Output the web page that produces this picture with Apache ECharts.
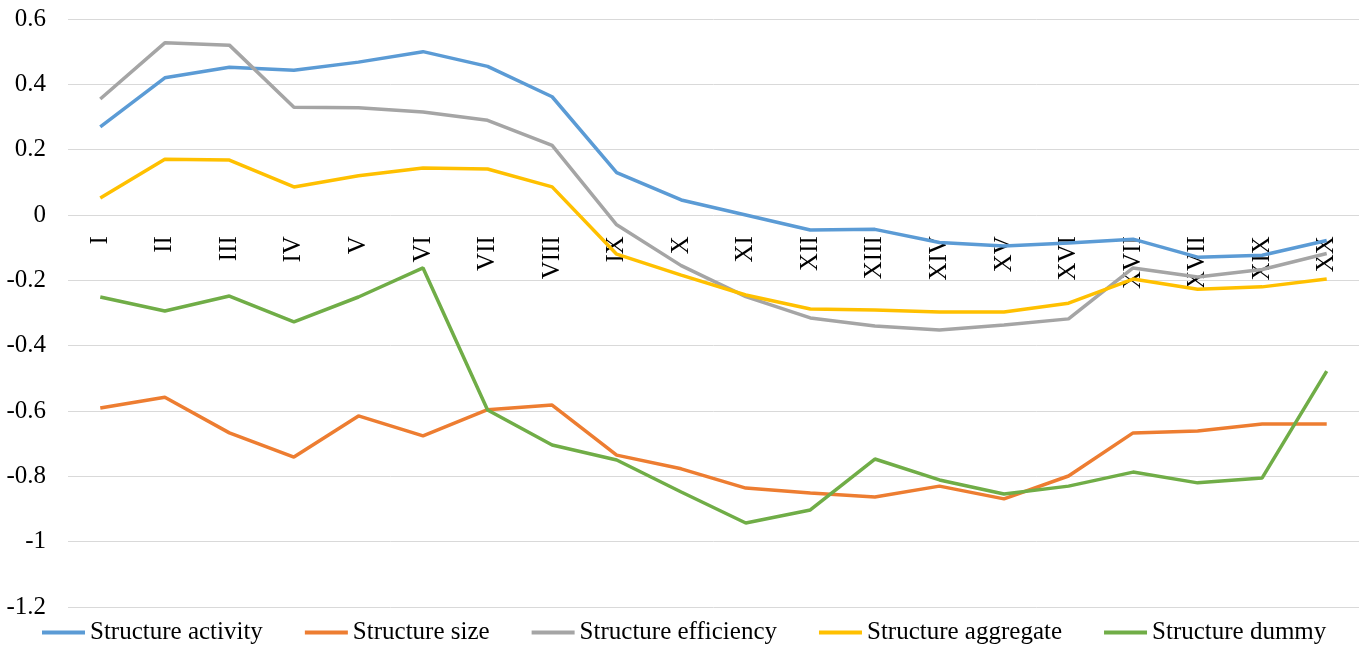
<!DOCTYPE html>
<html>
<head>
<meta charset="utf-8">
<script src="https://cdn.jsdelivr.net/npm/echarts@6/dist/echarts.min.js"></script>
<style>
html, body { margin: 0; padding: 0; background: #fff; }
#chart { width: 1362px; height: 646px; }
</style>
</head>
<body>
<div id="chart"></div>
<script>
// categories (the 18th label really says XVII in the source)
const categories = ["I", "II", "III", "IV", "V", "VI", "VII", "VIII", "IX", "X",
    "XI", "XII", "XIII", "XIV", "XV", "XVI", "XVII", "XVII", "XIX", "XX"];

const activity = [0.27, 0.42, 0.452, 0.443, 0.468, 0.5, 0.455, 0.362, 0.13, 0.046,
    0.0, -0.046, -0.044, -0.084, -0.095, -0.086, -0.074, -0.129, -0.123, -0.078];
const size = [-0.591, -0.558, -0.667, -0.741, -0.615, -0.676, -0.596, -0.582, -0.735, -0.777,
    -0.836, -0.851, -0.863, -0.83, -0.869, -0.799, -0.667, -0.661, -0.64, -0.64];
const efficiency = [0.355, 0.527, 0.52, 0.33, 0.328, 0.315, 0.29, 0.213, -0.03, -0.155,
    -0.25, -0.315, -0.34, -0.352, -0.337, -0.318, -0.162, -0.19, -0.167, -0.118];
const aggregate = [0.052, 0.171, 0.168, 0.086, 0.12, 0.144, 0.141, 0.086, -0.12, -0.184,
    -0.245, -0.288, -0.291, -0.297, -0.297, -0.27, -0.196, -0.227, -0.22, -0.196];
const dummy = [-0.251, -0.294, -0.248, -0.327, -0.251, -0.162, -0.597, -0.704, -0.75, -0.848,
    -0.943, -0.903, -0.747, -0.811, -0.854, -0.83, -0.787, -0.82, -0.805, -0.478];

const yTicks = { min: -1.2, max: 0.6, interval: 0.2 };

const seriesNames = ["Structure activity", "Structure size", "Structure efficiency",
    "Structure aggregate", "Structure dummy"];
const seriesData = [activity, size, efficiency, aggregate, dummy];
const colors = ["#5B9BD5", "#ED7D31", "#A5A5A5", "#FFC000", "#70AD47"];

const font = "'Liberation Serif', 'Times New Roman', serif";

const chart = echarts.init(document.getElementById("chart"));

const option = {
    animation: false,
    color: colors,
    grid: {
        left: 68,
        right: 3,
        top: 19,
        bottom: 39,
        containLabel: false,
    },
    legend: {
        left: 37,
        bottom: -4,
        itemWidth: 43,
        itemHeight: 4,
        itemGap: 42,
        icon: "rect",
        textStyle: {
            fontFamily: font,
            fontSize: 25,
            color: "#000",
        },
        data: seriesNames,
    },
    xAxis: {
        type: "category",
        data: categories,
        boundaryGap: true,
        axisLine: { show: false },
        axisTick: { show: false },
        axisLabel: {
            rotate: 90,
            interval: 0,
            margin: 6,
            fontFamily: font,
            fontSize: 25,
            color: "#000",
        },
        splitLine: { show: false },
    },
    yAxis: {
        type: "value",
        min: yTicks.min,
        max: yTicks.max,
        interval: yTicks.interval,
        axisLine: { show: false },
        axisTick: { show: false },
        axisLabel: {
            margin: 22,
            fontFamily: font,
            fontSize: 25,
            color: "#000",
            formatter: function (v) {
                return String(Math.round(v * 10) / 10);
            },
        },
        splitLine: {
            show: true,
            lineStyle: { color: "#D9D9D9", width: 1 },
        },
    },
    series: seriesNames.map(function (name, i) {
        return {
            name: name,
            type: "line",
            data: seriesData[i],
            symbol: "none",
            lineStyle: { width: 3.5, color: colors[i] },
            itemStyle: { color: colors[i] },
        };
    }),
};

chart.setOption(option);

// move the category axis up to the zero line (labels hang below 0)
const zeroY = chart.convertToPixel({ yAxisIndex: 0 }, 0);
const bottomY = chart.convertToPixel({ yAxisIndex: 0 }, yTicks.min);
chart.setOption({ xAxis: { offset: -(bottomY - zeroY) } });
</script>
</body>
</html>
